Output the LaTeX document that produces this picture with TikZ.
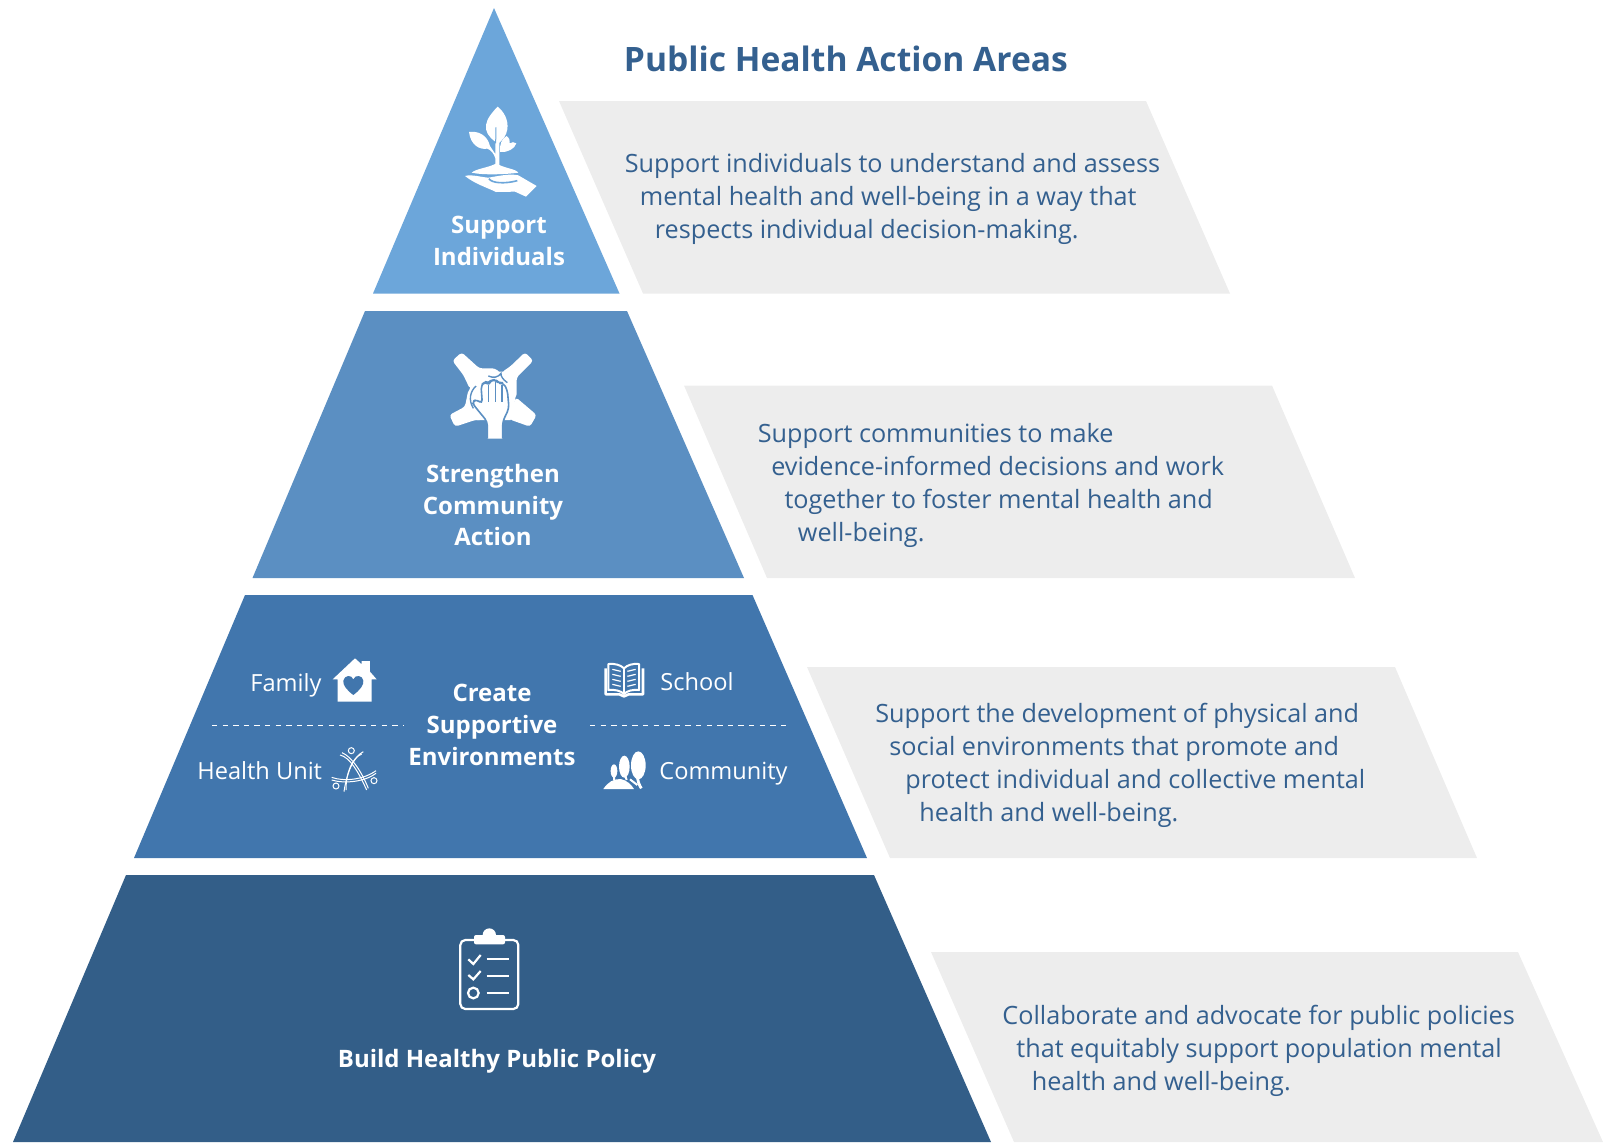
\documentclass[tikz,border=0pt]{standalone}
\usepackage{fontspec}
\setmainfont{Open Sans}
\definecolor{tierA}{HTML}{6CA6DA}
\definecolor{tierB}{HTML}{5B8FC2}
\definecolor{tierC}{HTML}{4176AD}
\definecolor{tierD}{HTML}{335E88}
\definecolor{panel}{HTML}{EDEDED}
\definecolor{ink}{HTML}{34608F}
\tikzset{
  bodytext/.style={anchor=north west,inner sep=0pt,align=left,text=ink,font=\fontsize{12.6}{16.55}\selectfont},
  tierlabel/.style={inner sep=0pt,align=center,text=white,font=\fontsize{12}{15.8}\selectfont\bfseries},
  sidelabel/.style={inner sep=0pt,anchor=mid west,text=white,font=\fontsize{11.8}{15}\selectfont},
  divider/.style={draw=white,line width=0.5pt,dash pattern=on 2.7pt off 2.6pt},
  icon/.style={fill=white,draw=none},
}
\begin{document}
\begin{tikzpicture}[x=0.5pt,y=-0.5pt]
\useasboundingbox (0,0) rectangle (1603,1142);
% tiers
\fill[tierA] (494,8) -- (619.5,293.5) -- (373,293.5) -- cycle;
\fill[tierB] (365,311) -- (627,311) -- (744,578) -- (252.5,578) -- cycle;
\fill[tierC] (245,595) -- (752.5,595) -- (867,858) -- (134,858) -- cycle;
\fill[tierD] (126,875) -- (874,875) -- (991,1142) -- (13,1142) -- cycle;
% panels
\fill[panel] (559,101) -- (1146,101) -- (1230,293.5) -- (643,293.5) -- cycle;
\fill[panel] (684,385.5) -- (1272,385.5) -- (1355,578) -- (767,578) -- cycle;
\fill[panel] (807,667) -- (1395,667) -- (1477,858) -- (890,858) -- cycle;
\fill[panel] (931,952) -- (1518,952) -- (1603,1142) -- (1014,1142) -- cycle;
% title
\node[inner sep=0pt,anchor=mid west,text=ink,font=\fontsize{16.8}{20}\selectfont\bfseries] (title) at (623.5,66) {Public Health Action Areas};
% body text
\node[bodytext] (bodyA) at (624.5,153) {Support individuals to understand and assess\\
\hspace*{7.5pt}mental health and well-being in a way that\\
\hspace*{15pt}respects individual decision-making.};
\node[bodytext] (bodyB) at (757.5,423) {Support communities to make\\
\hspace*{6.7pt}evidence-informed decisions and work\\
\hspace*{13.3pt}together to foster mental health and\\
\hspace*{20pt}well-being.};
\node[bodytext] (bodyC) at (875,702.5) {Support the development of physical and\\
\hspace*{7pt}social environments that promote and\\
\hspace*{15pt}protect individual and collective mental\\
\hspace*{22pt}health and well-being.};
\node[bodytext] (bodyD) at (1002,1005) {Collaborate and advocate for public policies\\
\hspace*{7pt}that equitably support population mental\\
\hspace*{14.7pt}health and well-being.};
% tier labels
\node[tierlabel] (labelA) at (499,241) {Support\\Individuals};
\node[tierlabel] (labelB) at (493,505) {Strengthen\\Community\\Action};
\node[tierlabel] (labelC) at (492,725) {Create\\Supportive\\Environments};
\node[tierlabel] (labelD) at (497,1061) {Build Healthy Public Policy};
\node[sidelabel] (family) at (250,686) {Family};
\node[sidelabel] (healthunit) at (197,774) {Health Unit};
\node[sidelabel] (school) at (660,685) {School};
\node[sidelabel] (community) at (659,774) {Community};
\coordinate (dlA) at (212,725); \coordinate (dlB) at (403,725);
\coordinate (drA) at (590,725); \coordinate (drB) at (788,725);
\draw[divider] (dlA) -- (dlB);
\draw[divider] (drA) -- (drB);
% plant in hand
\begin{scope}[shift={(420,90)},scale=1/3]
\fill[icon] (233,50) .. controls (252,65) and (266,90) .. (262,118) .. controls (259,138) and (247,150) .. (238,158) -- (238,225) -- (226,225) -- (226,205) .. controls (222,190) and (212,180) .. (202,176) .. controls (178,180) and (152,165) .. (147,126) .. controls (175,122) and (202,135) .. (210,168) -- (226,192) -- (226,155) .. controls (205,140) and (196,125) .. (198,105) .. controls (201,85) and (218,65) .. (233,50) -- cycle;
\fill[icon] (240,186) .. controls (238,165) and (245,145) .. (260,138) .. controls (268,145) and (271,150) .. (269,160) .. controls (275,155) and (283,156) .. (289,160) .. controls (284,177) and (262,188) .. (240,186) -- cycle;
\fill[icon] (155,248) .. controls (170,235) and (200,235) .. (230,220) .. controls (250,235) and (285,235) .. (295,248) .. controls (260,253) and (190,256) .. (155,248) -- cycle;
\fill[icon] (135,258) .. controls (155,252) and (185,262) .. (205,263) .. controls (235,258) and (270,250) .. (295,256) -- (350,288) -- (318,320) -- (285,305) -- (228,306) .. controls (200,292) and (165,282) .. (135,258) -- cycle;
\draw[tierA,line width=0.8pt] (207,266) .. controls (215,280) and (255,282) .. (292,272);
\draw[tierA,line width=0.5pt] (228,112) -- (227,160);
\end{scope}
% joined hands
\begin{scope}[shift={(420,340)},scale=1/3]
\fill[icon] (165,95) -- (250,95) -- (288,165) -- (272,240) -- (170,240) -- (142,170) -- cycle;
\fill[icon,rounded corners=1.5pt] (97,62) -- (125,37) -- (178,85) -- (225,85) -- (243,100) -- (225,114) -- (205,108) -- (175,127) -- (150,147) -- (130,105) -- cycle;
\fill[icon,rounded corners=1.5pt] (315,37) -- (340,62) -- (290,112) -- (290,172) -- (272,172) -- (268,135) -- (240,115) -- (247,95) -- (270,80) -- cycle;
\fill[icon,rounded corners=1.5pt] (350,225) -- (330,260) -- (268,238) -- (272,210) -- (288,172) -- cycle;
\fill[icon,rounded corners=1.5pt] (88,225) -- (105,260) -- (165,240) -- (188,240) -- (160,205) -- (150,185) -- (155,160) -- (168,138) -- (145,150) -- (135,200) -- cycle;
\draw[tierB,line width=0.7pt] (205,108) .. controls (220,115) and (235,112) .. (243,100) .. controls (242,108) and (248,118) .. (262,128);
\draw[tierB,line width=0.7pt] (168,138) .. controls (150,155) and (145,180) .. (160,205);
\filldraw[fill=white,draw=tierB,line width=0.8pt,line join=round,rounded corners=2pt] (202,296) -- (202,245) -- (165,200) -- (155,185) -- (172,178) -- (187,192) -- (183,135) -- (196,125) -- (206,132) -- (212,122) -- (226,118) -- (236,130) -- (250,128) -- (262,150) -- (267,205) -- (248,245) -- (248,296);
\draw[tierB,line width=0.7pt] (206,135) -- (206,185) (226,125) -- (226,185) (246,135) -- (246,185);
\end{scope}
% house with heart
\begin{scope}[shift={(190,640)},scale=1/3]
\fill[icon,line join=round] (428,118) -- (495,55) -- (515,73) -- (515,63) -- (540,63) -- (540,95) -- (560,118) -- (545,118) -- (545,185) -- (443,185) -- (443,118) -- cycle;
\fill[tierC] (490,165) .. controls (470,150) and (458,135) .. (460,122) .. controls (463,105) and (485,103) .. (490,118) .. controls (495,103) and (518,105) .. (520,122) .. controls (522,135) and (510,150) .. (490,165) -- cycle;
\end{scope}
% health unit mark
\begin{scope}[shift={(190,640)},scale=1/3,white,line width=0.5pt]
\draw (484,332) circle (9);
\draw (438,438) circle (9);
\draw (552,422) circle (9);
\draw (450,345) .. controls (480,352) and (505,395) .. (530,450);
\draw (456,338) .. controls (485,350) and (515,395) .. (535,445);
\draw (520,335) .. controls (490,350) and (470,400) .. (462,455);
\draw (515,342) .. controls (485,355) and (468,400) .. (468,450);
\draw (425,412) .. controls (460,425) and (520,420) .. (558,392);
\draw (425,420) .. controls (465,432) and (525,425) .. (558,400);
\end{scope}
% book
\begin{scope}[shift={(580,640)},scale=1/3,white]
\draw[line width=1pt,line join=round] (85,72) .. controls (105,70) and (122,75) .. (132,85) .. controls (142,75) and (158,70) .. (177,72) -- (177,150) .. controls (158,148) and (142,152) .. (132,162) .. controls (122,152) and (105,148) .. (85,150) -- cycle;
\draw[line width=1.3pt,line join=round] (77,85) -- (77,163) -- (118,163) -- (132,169) -- (146,163) -- (189,163) -- (189,85);
\draw[line width=0.7pt] (132,85) -- (132,162);
\foreach \yy in {88,103,118,133}{
  \draw[line width=0.6pt] (97,\yy) -- (122,\yy+6);
  \draw[line width=0.6pt] (142,\yy+6) -- (167,\yy);
}
\end{scope}
% trees
\begin{scope}[shift={(580,640)},scale=1/3]
\fill[icon] (175,376) ellipse (22 and 42);
\fill[icon] (133,380) ellipse (16 and 33);
\fill[icon] (102,393) ellipse (10 and 20);
\fill[icon] (70,447) .. controls (85,425) and (100,417) .. (122,417) .. controls (140,420) and (155,435) .. (162,447) -- cycle;
\draw[white,line width=1.4pt] (172,400) .. controls (172,425) and (178,435) .. (184,445);
\draw[white,line width=1pt] (133,400) -- (140,420) (102,400) -- (102,420) (150,418) -- (172,435);
\end{scope}
% clipboard
\begin{scope}[shift={(430,915)},scale=1/3,white]
\draw[line width=1.1pt,rounded corners=2.5pt] (91,75) rectangle (265,282);
\fill[rounded corners=1pt] (132,60) rectangle (225,88);
\fill (178,60) circle (20);
\draw[line width=1.1pt] (115,133) -- (130,147) -- (152,120);
\draw[line width=1.1pt] (115,180) -- (130,193) -- (152,168);
\draw[line width=1.1pt] (170,133) -- (238,133) (170,182) -- (238,182) (170,234) -- (238,234);
\draw[line width=1.1pt] (130,234) circle (16);
\end{scope}
\end{tikzpicture}
\end{document}
